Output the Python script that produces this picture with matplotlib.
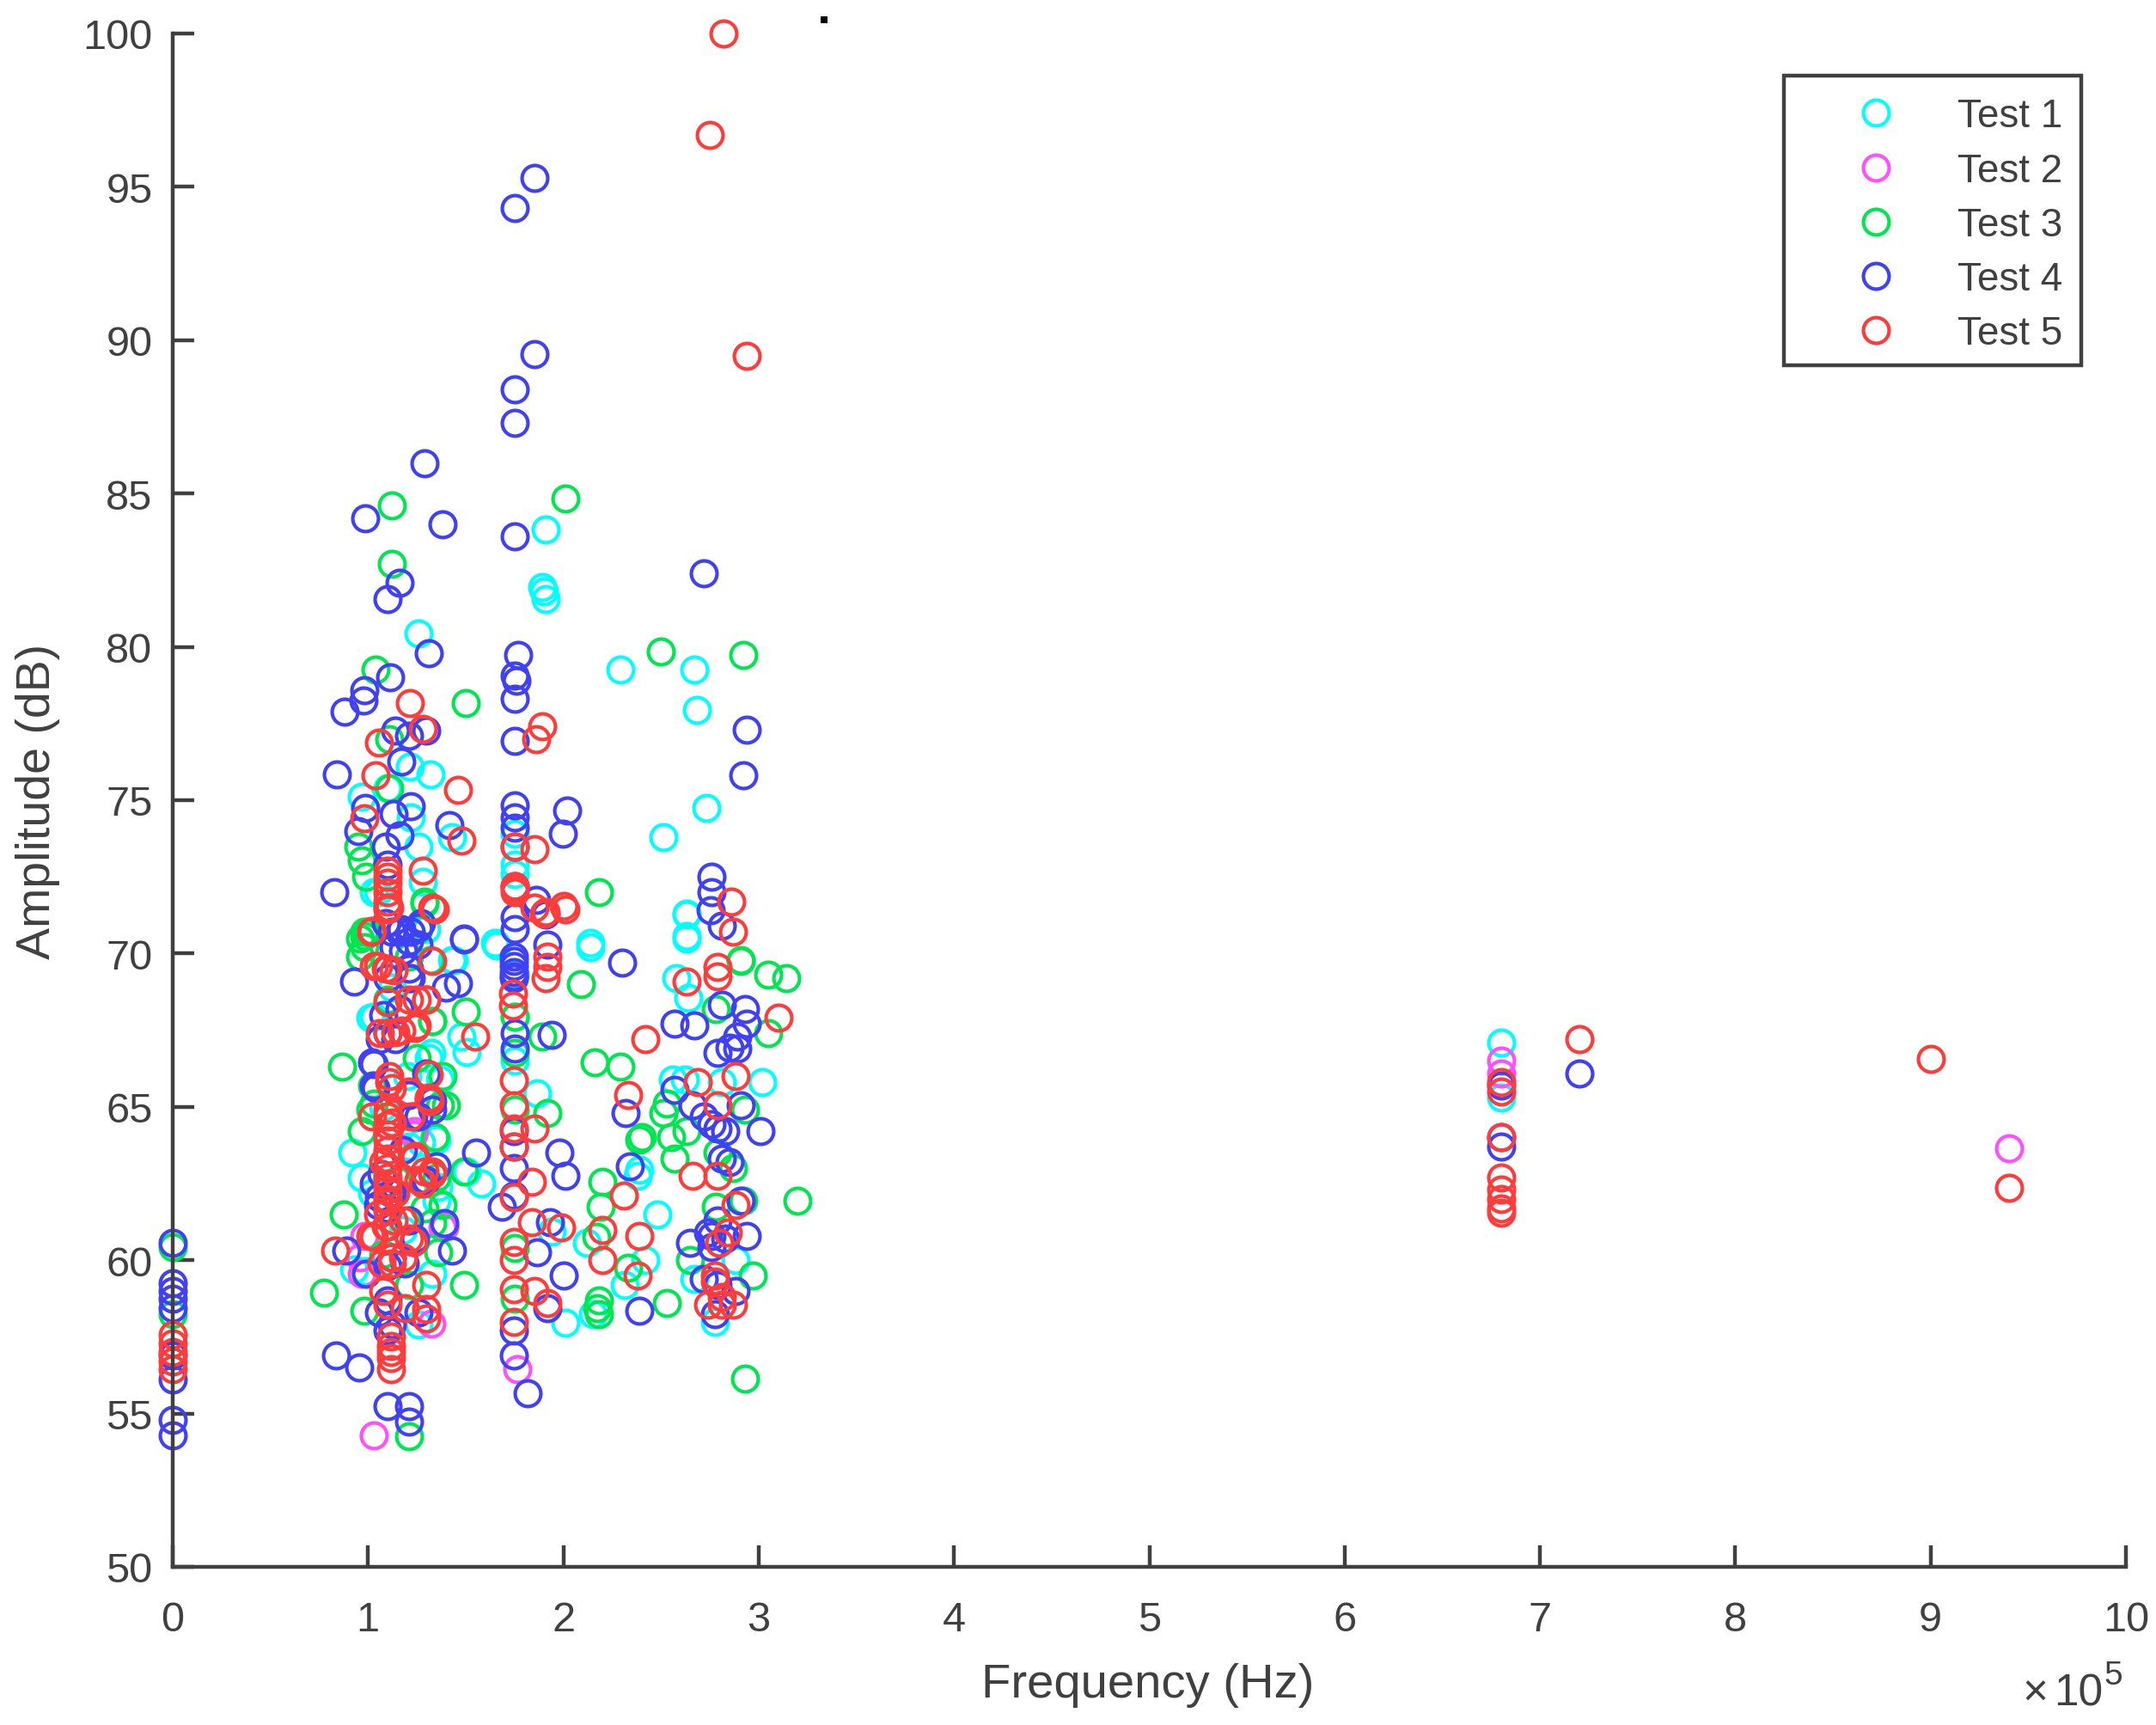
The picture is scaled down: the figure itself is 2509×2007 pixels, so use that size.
#!/usr/bin/env python3
"""Amplitude vs frequency scatter for five tests."""

import matplotlib
matplotlib.use("Agg")
import matplotlib.pyplot as plt
from matplotlib.patches import Rectangle

plt.rcParams["font.family"] = ["Liberation Sans", "DejaVu Sans"]

W, H = 2509, 2008
DARK = "#404040"

# frequency in units of 1e5 Hz, amplitude in dB
test1_f = [1.91, 1.89, 1.90, 1.91, 1.26, 2.29, 2.67, 2.685, 2.73, 2.51, 1.215, 1.32, 0.97, 1.22, 1.43,
           1.26, 1.28, 1.05, 2.63, 2.63, 1.65, 2.14, 1.30, 1.75, 1.75, 1.75, 1.10,
           0.92, 0.966, 1.505, 1.58, 1.66, 2.14, 1.48, 1.505, 1.44, 1.325, 1.37, 1.865, 2.48, 2.39, 2.38,
           1.94, 2.12, 2.42, 2.315, 2.15, 2.01, 2.775, 2.56, 2.62, 3.02, 2.63, 2.63, 2.58, 2.64, 2.81,
           2.88, 2.67, 0.93, 1.26, 1.01, 1.35, 1.21, 1.02, 1.75, 1.75, 1.75, 1.35, 1.39, 1.33,
           6.8, 6.8]
test1_a = [83.83, 81.95, 81.8, 81.57, 80.43, 79.27, 79.27, 77.95, 74.76, 73.8, 76.1, 75.83, 75.1, 74.44, 73.8,
           73.5, 72.35, 72.0, 71.27, 70.57, 70.36, 70.36, 70.8, 72.9, 72.6, 73.9, 75.4,
           63.5, 62.7, 62.9, 62.5, 70.25, 70.2, 67.3, 66.8, 69.8, 66.75, 65.9, 65.44, 61.5, 62.94, 62.75,
           60.94, 60.56, 60.0, 59.2, 58.25, 57.96, 58.0, 65.9, 65.9, 65.8, 71.3, 70.5, 69.2, 68.56, 65.8,
           60.0, 59.4, 59.7, 57.9, 67.9, 63.94, 63.7, 62.2, 69.3, 67.94, 66.5, 61.94, 61.06, 59.56,
           67.1, 65.3]
# dense band near 1.0-1.5e5
test1_f += [1.03, 1.43, 1.03, 1.31, 1.27, 1.36, 0.985, 1.12, 1.2, 1.08, 1.18]
test1_a += [72.0, 69.8, 67.95, 66.6, 63.85, 62.4, 59.65, 68.9, 66.0, 65.0, 61.0]

test2_f = [1.03, 1.765, 1.326, 0.98, 1.38, 0.966, 1.235, 6.8, 6.8, 9.4, 0.96, 1.39, 1.23]
test2_a = [54.3, 56.46, 57.94, 60.8, 61.06, 59.56, 64.2, 66.5, 66.1, 63.65, 60.1, 61.1, 64.1]

test3_f = [1.12, 2.01, 1.12, 2.5, 2.92, 1.04, 1.50, 1.11, 2.18, 0.95, 0.97, 0.99, 1.11, 1.29, 1.0, 0.96, 1.26,
           0.865, 0.876, 0.775, 1.49, 0.98, 1.36, 1.5, 1.89, 2.09, 2.16, 2.29, 2.91, 3.05, 3.14, 3.05, 2.78,
           1.92, 1.75, 1.75, 3.2, 2.93, 2.97, 2.53, 2.18, 2.175, 2.18, 2.33, 2.2, 2.19, 2.17, 2.65, 2.39, 2.4,
           2.53, 2.51, 2.55, 2.57, 2.63, 2.79, 2.87, 2.93, 2.92, 2.78, 1.49, 0.97, 1.02, 1.01, 0.98, 0.98,
           1.35, 1.38, 1.33, 1.37, 1.38, 1.34, 1.33, 1.21, 1.75, 1.75, 1.75, 0.0, 0.0, 1.21, 2.91]
test3_a = [84.6, 84.85, 82.7, 79.86, 79.73, 79.27, 78.16, 77.0, 72.0, 73.5, 73.04, 72.5, 75.4, 71.65, 70.7, 70.5, 70.8,
           66.3, 61.5, 58.94, 59.2, 58.35, 60.25, 68.1, 67.3, 69.0, 66.44, 66.3, 69.8, 69.3, 69.2, 67.4, 68.2,
           64.8, 64.9, 66.75, 61.94, 56.15, 59.5, 58.6, 58.7, 58.44, 58.25, 59.75, 62.56, 61.75, 60.75, 60.0, 63.94, 64.0,
           65.1, 64.8, 64.0, 63.3, 64.2, 63.5, 63.0, 64.9, 61.94, 61.75, 62.9, 64.2, 65.7, 64.9, 70.2, 70.7,
           62.7, 61.8, 61.2, 65.06, 66.0, 64.0, 67.8, 59.2, 67.94, 60.4, 58.75, 60.44, 58.25, 54.25, 69.75]
test3_f += [0.98, 0.96, 1.29, 1.32, 1.10, 1.33, 1.21, 1.40, 1.34, 1.2, 1.29, 1.23, 1.03, 1.08, 1.15, 1.25]
test3_a += [70.57, 69.9, 71.7, 69.8, 68.5, 67.8, 69.9, 65.06, 64.0, 61.3, 61.7, 63.4, 65.1, 60.2, 62.6, 66.6]

test4_f = [1.287, 0.986, 1.38, 1.75, 2.72, 1.16, 1.10, 1.31, 1.77, 1.75, 1.76, 1.75, 1.114, 0.98, 0.976, 0.878,
           1.75, 2.94, 2.92, 0.84, 1.30, 1.14, 1.21, 1.17, 1.75, 1.75, 1.75, 1.75, 2.02, 1.997, 1.415, 0.825,
           2.76, 2.76, 2.755, 2.81, 1.22, 0.985, 0.95, 1.13, 1.16, 1.09, 1.10, 1.75, 1.75, 1.75, 1.86, 1.91,
           1.49, 1.16, 1.22, 1.92, 1.75, 1.85, 1.85, 1.75, 1.75,
           0.0, 0.0, 0.0, 0.0, 0.0, 0.0, 0.0, 0.0, 0.0, 0.836, 0.955, 1.10, 1.21, 1.21, 1.815, 1.745, 1.745,
           2.39, 1.92, 1.43, 0.89, 0.99, 2.0, 1.865, 1.93, 1.555, 1.98, 2.01, 2.32, 2.34, 2.57, 2.3, 1.49,
           1.46, 1.40, 0.93, 1.94, 2.57, 2.67, 2.81, 2.93, 2.94, 2.89, 2.79, 2.85, 2.89, 3.01, 2.91, 2.72,
           2.76, 2.79, 2.83, 2.66, 2.85, 2.81, 2.65, 2.74, 2.83, 2.94, 2.76, 2.72, 2.79, 2.88, 2.775, 2.91,
           2.79, 2.76, 1.745, 1.745, 1.745, 1.745, 1.745, 1.745, 1.75, 1.75, 1.745, 1.685, 1.745, 1.745, 1.745,
           1.39, 1.12, 1.17, 1.21, 1.03, 1.03, 1.30, 1.33, 1.26, 1.21, 1.35, 1.30, 1.24, 1.10, 1.117, 1.055,
           1.07, 1.10, 1.10, 1.21, 1.12, 1.10, 1.10, 1.055, 1.26, 1.10, 1.19, 6.8, 6.8, 6.8, 7.2]
test4_a = [86.0, 84.2, 84.0, 83.6, 82.4, 82.08, 81.55, 79.8, 79.74, 79.05, 78.9, 78.3, 79.0, 78.6, 78.25, 77.9,
           76.94, 77.3, 75.8, 75.83, 77.28, 77.28, 77.1, 76.26, 74.84, 74.44, 74.1, 73.5, 74.65, 73.9, 74.2, 72.0,
           72.5, 72.0, 71.4, 70.9, 74.8, 74.75, 74.0, 74.55, 73.85, 73.5, 72.9, 72.2, 71.2, 70.8, 71.75, 71.27,
           70.5, 70.7, 70.7, 70.3, 94.3, 95.3, 89.55, 88.4, 87.3,
           60.56, 59.25, 59.0, 58.75, 58.44, 56.9, 56.1, 54.8, 54.3, 56.9, 56.5, 55.25, 55.25, 54.75, 55.65, 56.9, 57.7,
           58.35, 58.44, 60.3, 60.3, 59.56, 59.5, 60.25, 61.25, 63.5, 63.5, 62.75, 64.8, 63.06, 65.56, 69.7, 70.47,
           69.04, 68.9, 69.1, 67.34, 67.7, 67.66, 68.34, 68.2, 67.7, 67.3, 66.75, 66.94, 66.9, 64.2, 65.06, 64.7,
           64.44, 64.3, 64.2, 65.06, 63.2, 63.3, 60.56, 60.9, 60.7, 60.8, 60.44, 59.4, 59.2, 59.0, 58.25, 61.94,
           61.3, 60.8, 69.9, 69.75, 69.6, 69.4, 69.25, 69.2, 67.4, 66.9, 62.1, 61.75, 64.2, 63.7, 63.0,
           61.2, 70.7, 70.8, 70.4, 66.4, 65.7, 66.1, 65.2, 64.7, 65.4, 63.06, 62.6, 60.7, 61.7, 62.2, 62.06,
           62.8, 67.4, 69.2, 69.2, 57.9, 57.7, 58.7, 58.3, 58.3, 59.8, 59.9, 65.7, 64.0, 63.7, 66.1]
test4_f += [1.09, 1.27, 1.13, 1.18, 1.26, 1.21, 1.22, 1.26, 1.06, 1.14, 1.02, 1.03, 1.05, 1.12, 1.29,
            1.33, 1.23, 1.04, 1.31, 1.23, 1.21, 1.12, 1.16, 1.08, 1.18]
test4_a += [71.0, 71.0, 70.2, 70.1, 70.3, 69.5, 69.2, 70.85, 67.2, 67.2, 66.45, 62.5, 61.8, 62.2, 62.6,
            64.9, 64.7, 65.6, 65.25, 60.6, 61.3, 60.1, 68.2, 68.0, 63.6]

test5_f = [1.215, 1.28, 1.055, 1.89, 1.86, 1.04, 1.46, 0.98, 1.48, 1.75, 1.85, 1.28, 1.10, 1.10, 1.10, 1.10, 1.10,
           1.10, 1.33, 2.86, 2.87, 1.75, 1.75, 1.75, 1.85, 1.90, 2.0, 1.02,
           1.10, 1.34, 1.91, 2.01, 1.10, 1.33, 1.92, 1.92, 1.91, 2.63, 2.79, 2.79, 1.03, 1.10, 1.21, 1.30,
           1.06, 1.10, 1.24, 1.17, 1.55, 1.74, 1.74, 2.42, 3.1, 1.11, 1.11, 1.31, 1.745, 2.33, 2.88, 2.69, 2.79,
           1.315, 1.21, 1.02, 1.10, 1.10, 1.10, 1.10, 1.10, 1.10, 1.10, 1.22, 1.745, 1.745, 1.85, 1.745,
           1.235, 1.33, 1.28, 1.10, 1.10, 1.10, 1.84, 1.745, 2.31, 2.79, 2.66, 2.88,
           1.10, 1.03, 1.13, 1.21, 0.83, 1.12, 1.84, 1.99, 2.2, 2.39, 1.745, 1.745, 2.2, 2.84, 2.8, 2.38, 2.775, 2.775,
           1.30, 1.08, 1.30, 1.19, 1.10, 1.30, 1.85, 1.92, 1.745, 1.745, 2.74, 2.81, 2.87, 2.81,
           1.117, 1.117, 1.117, 1.117, 1.117, 0.0, 0.0, 0.0, 0.0, 0.0,
           2.82, 2.75, 2.94, 7.2, 9.0, 9.4, 6.8, 6.8, 6.8, 6.8, 6.8, 6.8, 6.8, 6.8]
test5_a = [78.17, 77.33, 76.87, 77.4, 77.0, 75.8, 75.35, 74.4, 73.67, 73.5, 73.4, 72.7, 72.7, 72.5, 72.3, 72.0, 71.7,
           71.5, 71.5, 71.68, 70.7, 72.2, 72.1, 72.0, 71.5, 71.3, 71.55, 70.75,
           71.44, 71.44, 71.37, 71.44, 69.5, 69.75, 69.9, 69.56, 69.2, 69.1, 69.56, 69.25, 69.6, 68.4, 68.5, 68.5,
           67.4, 67.4, 67.56, 67.5, 67.3, 68.7, 68.3, 67.2, 67.9, 66.0, 65.8, 66.05, 65.85, 65.4, 66.0, 65.8, 65.06,
           65.2, 65.5, 64.7, 64.7, 64.4, 64.1, 63.9, 63.6, 63.3, 63.0, 64.7, 65.06, 64.3, 64.3, 63.7,
           63.3, 62.8, 62.5, 62.7, 62.3, 61.9, 62.56, 62.06, 62.1, 62.75, 62.75, 61.8,
           61.1, 60.75, 61.3, 60.7, 60.3, 59.9, 61.25, 61.06, 61.0, 60.8, 60.6, 60.0, 60.0, 60.9, 60.56, 59.5, 59.5, 59.3,
           59.2, 59.0, 58.4, 58.44, 58.56, 58.1, 59.0, 58.6, 59.06, 58.0, 58.56, 58.56, 58.56, 58.8,
           57.5, 57.2, 57.0, 56.8, 56.45, 57.56, 57.3, 57.0, 56.7, 56.44,
           100.0, 96.7, 89.5, 67.2, 66.55, 62.35, 65.8, 65.5, 64.0, 62.7, 62.3, 62.0, 61.7, 61.55]
test5_f += [1.05, 1.09, 1.13, 1.015, 1.11, 1.25, 1.30, 1.14, 1.25, 1.31, 1.12, 1.24, 1.29, 1.33, 1.26,
            1.10, 1.10, 1.18, 1.05, 1.01, 1.09, 1.23, 1.12, 1.07, 1.18, 1.10, 1.12, 1.08, 1.10, 1.14]
test5_a += [69.6, 69.5, 69.45, 70.7, 71.5, 68.5, 68.5, 67.44, 67.67, 65.3, 65.6, 63.4, 62.9, 62.9, 62.6,
            62.5, 62.0, 61.3, 61.5, 60.8, 61.1, 60.6, 60.1, 59.9, 60.1, 64.9, 64.5, 63.2, 61.6, 62.2]

series_labels = ["Test 1", "Test 2", "Test 3", "Test 4", "Test 5"]
series_f = [test1_f, test2_f, test3_f, test4_f, test5_f]
series_a = [test1_a, test2_a, test3_a, test4_a, test5_a]
colors = ["#00ffff", "#ff50ff", "#00e650", "#4040f5", "#ff3c3c"]

x_ticks = list(range(0, 11))
y_ticks = list(range(50, 101, 5))


def fx(px):
    return px / W


def fy(px):
    return 1 - px / H


fig = plt.figure(figsize=(W / 100, H / 100), dpi=100)
ax = fig.add_axes([fx(201), fy(1824), (2474 - 201) / W, (1824 - 40) / H])

for f, a, color, label in zip(series_f, series_a, colors, series_labels):
    ax.plot(f, a, "o", mfc="none", mec=color, ms=21.5, mew=3, label=label, clip_on=False)

ax.set_xlim(0, 10)
ax.set_ylim(50, 100)
ax.set_xticks(x_ticks)
ax.set_yticks(y_ticks)
ax.spines["top"].set_visible(False)
ax.spines["right"].set_visible(False)
for side in ("left", "bottom"):
    ax.spines[side].set_linewidth(3.2)
    ax.spines[side].set_color(DARK)
ax.tick_params(direction="in", length=18, width=3.2, color=DARK, labelcolor=DARK, labelsize=35)
ax.tick_params(axis="x", pad=28)
ax.tick_params(axis="y", pad=17)
ax.set_xlabel("Frequency (Hz)", fontsize=40.5, color=DARK)
ax.set_ylabel("Amplitude (dB)", fontsize=40, color=DARK)
ax.xaxis.set_label_coords(0.4993, -0.0625)
ax.yaxis.set_label_coords(-0.0577, 0.5)

# axis multiplier
fig.text(fx(2383), fy(1985), "×", ha="right", va="baseline", fontsize=37, color=DARK)
fig.text(fx(2447), fy(1985), "10", ha="right", va="baseline", fontsize=37, color=DARK)
fig.text(fx(2448), fy(1960), "5", ha="left", va="baseline", fontsize=28, color=DARK)
# speck above the plot
fig.add_artist(Rectangle((fx(955), fy(28)), 8 / W, 8 / H, transform=fig.transFigure, color="black", lw=0))

leg = ax.legend(loc="upper left", bbox_to_anchor=(fx(2076), fy(96)), bbox_transform=fig.transFigure,
                fontsize=33, frameon=False, borderpad=0.4, handlelength=3.87, handletextpad=0.13,
                labelspacing=0.42, borderaxespad=0, numpoints=1, labelcolor=DARK)
fig.add_artist(Rectangle((fx(2076), fy(426)), (2422 - 2076) / W, (426 - 89) / H, transform=fig.transFigure,
                         fill=False, edgecolor=DARK, linewidth=3.2))

fig.savefig("out.png", dpi=100)
